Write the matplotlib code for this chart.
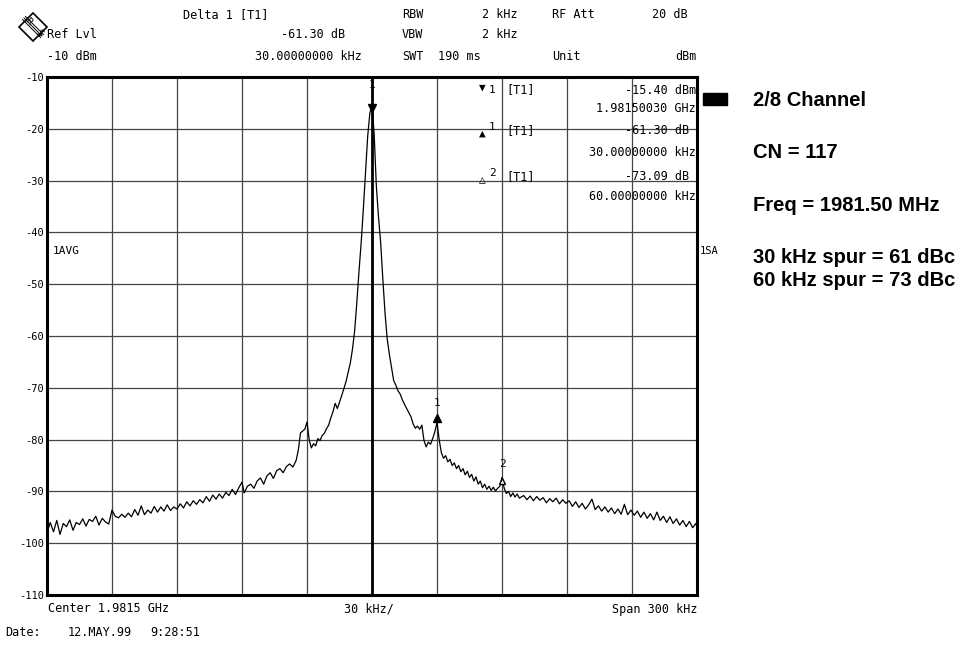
import numpy as np
import matplotlib.pyplot as plt
from matplotlib.patches import Polygon, Rectangle
from matplotlib.lines import Line2D

# ========== 数据：频偏 (kHz) 与电平 (dBm) ==========
freq_khz = [
    -150, -148.5, -147, -145.5, -144, -142.5, -141, -139.5, -138, -136.5,
    -135, -133.5, -132, -130.5, -129, -127.5, -126, -124.5, -123, -121.5,
    -120, -118.5, -117, -115.5, -114, -112.5, -111, -109.5, -108, -106.5,
    -105, -103.5, -102, -100.5, -99, -97.5, -96, -94.5, -93, -91.5,
    -90, -88.5, -87, -85.5, -84, -82.5, -81, -79.5, -78, -76.5,
    -75, -73.5, -72, -70.5, -69, -67.5, -66, -64.5, -63, -61.5,
    -60, -59, -57.5, -56, -54.5, -53, -51.5, -50, -48.5, -47,
    -45.5, -44, -42.5, -41, -39.5, -38, -36.5, -35, -34, -33,
    -31, -30, -29, -28, -27, -26, -25, -24, -23, -22,
    -21, -20, -19, -18, -17, -16, -15, -14, -13, -12,
    -11, -10, -9, -8, -7, -6, -5, -4, -3, -2,
    -1, 0, 1, 2, 3, 4, 5, 6, 7, 8,
    9, 10, 11, 12, 13, 14, 15, 16, 17, 18,
    19, 20, 21, 22, 23, 24, 25, 26, 27, 28,
    29, 30, 31, 32, 33, 34, 35, 36, 37, 38,
    39, 40, 41, 42, 43, 44, 45, 46, 47, 48,
    49, 50, 51, 52, 53, 54, 55, 56, 57, 58,
    59, 60, 61, 62, 63, 64, 65, 66, 67, 68,
    70, 71.5, 73, 74.5, 76, 77.5, 79, 80.5, 82, 83.5,
    85, 86.5, 88, 89.5, 91, 92.5, 94, 95.5, 97, 98.5,
    100, 101.5, 103, 104.5, 106, 107.5, 109, 110.5, 112, 113.5,
    115, 116.5, 118, 119.5, 121, 122.5, 124, 125.5, 127, 128.5,
    130, 131.5, 133, 134.5, 136, 137.5, 139, 140.5, 142, 143.5,
    145, 146.5, 148, 149.5, 150,
]
level_dbm = [
    -98.0, -96.0, -97.8, -95.6, -98.3, -96.2, -96.8, -95.5, -97.5, -96.0,
    -96.4, -95.3, -96.7, -95.4, -95.8, -94.8, -96.5, -95.2, -95.9, -96.3,
    -93.6, -94.8, -95.1, -94.4, -95.0, -94.2, -94.9, -93.5, -94.6, -92.8,
    -94.5, -93.6, -94.2, -92.9, -94.0, -93.0, -93.8, -92.6, -93.7, -93.0,
    -93.4, -92.4, -93.2, -92.0, -92.8, -91.8, -92.5, -91.6, -92.2, -91.0,
    -91.9, -90.7, -91.5, -90.5, -91.3, -90.2, -90.8, -89.6, -90.6, -89.3,
    -88.2, -90.3, -89.0, -88.6, -89.4, -88.0, -87.4, -88.6, -87.0, -86.4,
    -87.5, -86.0, -85.6, -86.4, -85.2, -84.7, -85.3, -84.0, -82.0, -78.7,
    -78.0, -76.6, -80.0, -81.6, -80.8, -81.2, -79.8, -80.2, -79.2, -78.8,
    -77.9, -77.2, -75.8, -74.6, -73.0, -74.0, -72.8, -71.5, -70.2, -68.8,
    -67.0, -65.2, -62.5, -59.0, -53.5, -47.5, -42.0, -35.5, -28.5, -21.5,
    -17.0, -15.4, -21.0, -31.0, -37.0, -42.0, -49.0, -55.5, -60.5, -63.5,
    -66.0, -68.6, -69.5, -70.6, -71.2, -72.3, -73.2, -74.0, -74.8, -75.6,
    -77.0, -77.8, -77.4, -78.0, -77.2, -80.2, -81.4, -80.5, -80.9, -79.8,
    -78.5, -76.7, -80.0, -82.5, -83.6, -83.1, -84.3, -83.8, -85.0, -84.5,
    -85.6, -85.0, -86.2, -85.6, -86.8, -86.1, -87.3, -86.7, -88.0, -87.2,
    -88.6, -88.0, -89.3, -88.6, -89.6, -89.0, -89.8, -89.2, -89.9, -89.4,
    -89.0, -87.3, -89.4, -90.4, -90.0, -91.0, -90.3, -91.1, -90.5, -91.3,
    -90.8, -91.6, -90.9, -91.8, -91.0, -91.7, -91.2, -92.2, -91.4, -92.0,
    -91.3, -92.4, -91.6, -92.3, -91.8, -92.9, -92.0, -93.1, -92.3, -93.4,
    -92.6, -91.5, -93.5, -92.8, -93.8, -93.0, -94.0, -93.2, -94.3, -93.4,
    -94.4, -92.5, -94.5, -93.6, -94.6, -93.8, -95.0, -94.0, -95.2, -94.3,
    -95.5, -94.0, -95.6, -94.8, -96.0, -94.9, -96.2, -95.3, -96.5, -95.6,
    -96.8, -95.8, -97.0, -96.2, -96.8,
]

# 标记点
marker_freq = [0, 30, 60]
marker_level = [-15.4, -76.7, -88.5]
marker_label = ['1', '1', '2']

y_ticks = [-10, -20, -30, -40, -50, -60, -70, -80, -90, -100, -110]
x_grid = [-150, -120, -90, -60, -30, 0, 30, 60, 90, 120, 150]

right_notes = ['2/8 Channel', 'CN = 117', 'Freq = 1981.50 MHz',
               '30 kHz spur = 61 dBc', '60 kHz spur = 73 dBc']

W, H = 971, 652
MONO = 'DejaVu Sans Mono'


def px(x, y):
    return x / W, 1 - y / H


fig = plt.figure(figsize=(W / 100, H / 100), dpi=100)
ax = fig.add_axes([47 / W, 1 - 595 / H, 650 / W, 518 / H])

# 网格
for v in y_ticks:
    ax.axhline(v, color='#444444', lw=0.9, zorder=1)
for v in x_grid:
    ax.axvline(v, color='#444444', lw=0.9, zorder=1)
ax.axvline(0, color='black', lw=2.0, zorder=1)

# 曲线
ax.plot(freq_khz, level_dbm, color='black', lw=0.9, zorder=3)

ax.set_xlim(-150, 150)
ax.set_ylim(-110, -10)
ax.set_xticks([])
ax.set_yticks(y_ticks)
ax.set_yticklabels([str(v) for v in y_ticks], fontfamily=MONO, fontsize=7.5)
ax.tick_params(axis='y', length=0, pad=2)
for sp in ax.spines.values():
    sp.set_linewidth(2.2)

# 标记
ax.plot(marker_freq[0], marker_level[0] - 0.5, marker='v', color='black', ms=6, zorder=4)
ax.plot(marker_freq[1], marker_level[1] + 0.8, marker='^', color='black', ms=6, zorder=4)
ax.plot(marker_freq[2], marker_level[2] + 0.5, marker='^', mfc='white', mec='black', ms=4, zorder=4)
for f, l, t in zip(marker_freq, marker_level, marker_label):
    ax.text(f, l + 2.8, t, ha='center', va='bottom', fontfamily=MONO, fontsize=8, zorder=4)

ax.text(-147.5, -43.5, '1AVG', fontfamily=MONO, fontsize=8, va='center')

# 标记表
tb = [
    (90, '▼', '1', '-15.40 dBm'),
    (108, None, None, '1.98150030 GHz'),
    (131, '▲', '1', '-61.30 dB '),
    (153, None, None, '30.00000000 kHz'),
    (177, '△', '2', '-73.09 dB '),
    (196, None, None, '60.00000000 kHz'),
]
for y, sym, num, val in tb:
    fig.text(*px(696, y), val, ha='right', va='center', fontfamily=MONO, fontsize=8.5)
    if sym:
        sy = y - 2 if sym == '▼' else y + 3
        fig.text(*px(482, sy), sym, ha='center', va='center', fontfamily=MONO, fontsize=8)
        dy = 0 if sym == '▼' else -4
        fig.text(*px(489, y + dy), num, ha='left', va='center', fontfamily=MONO, fontsize=8)
        fig.text(*px(506, y), '[T1]', ha='left', va='center', fontfamily=MONO, fontsize=8.5)

# 顶部信息
hdr = dict(fontfamily=MONO, fontsize=8.5, va='center')
fig.text(*px(47, 35), 'Ref Lvl', ha='left', **hdr)
fig.text(*px(47, 57), '-10 dBm', ha='left', **hdr)
fig.text(*px(183, 15), 'Delta 1 [T1]', ha='left', **hdr)
fig.text(*px(345, 35), '-61.30 dB', ha='right', **hdr)
fig.text(*px(362, 57), '30.00000000 kHz', ha='right', **hdr)
fig.text(*px(402, 15), 'RBW', ha='left', **hdr)
fig.text(*px(402, 35), 'VBW', ha='left', **hdr)
fig.text(*px(402, 57), 'SWT', ha='left', **hdr)
fig.text(*px(518, 15), '2 kHz', ha='right', **hdr)
fig.text(*px(518, 35), '2 kHz', ha='right', **hdr)
fig.text(*px(438, 57), '190 ms', ha='left', **hdr)
fig.text(*px(552, 15), 'RF Att', ha='left', **hdr)
fig.text(*px(552, 57), 'Unit', ha='left', **hdr)
fig.text(*px(688, 15), '20 dB', ha='right', **hdr)
fig.text(*px(697, 57), 'dBm', ha='right', **hdr)

# 底部信息
fig.text(*px(48, 609), 'Center 1.9815 GHz', ha='left', **hdr)
fig.text(*px(369, 609), '30 kHz/', ha='center', **hdr)
fig.text(*px(697, 609), 'Span 300 kHz', ha='right', **hdr)
fig.text(*px(5, 633), 'Date:', ha='left', **hdr)
fig.text(*px(68, 633), '12.MAY.99', ha='left', **hdr)
fig.text(*px(150, 633), '9:28:51', ha='left', **hdr)
fig.text(*px(700, 251), '1SA', ha='left', fontfamily=MONO, fontsize=7.5, va='center')

# R&S 标志
cx, cy, r = 33, 27, 14
diamond = [px(cx - r, cy), px(cx, cy - r), px(cx + r, cy), px(cx, cy + r)]
fig.patches.append(Polygon(diamond, closed=True, fill=False, ec='black', lw=1.2,
                           transform=fig.transFigure, figure=fig))
for d in (-1.5, 0, 1.5):
    x0, y0 = px(cx - 9 + d, cy - 9 - d)
    x1, y1 = px(cx + 9 + d, cy + 9 - d)
    fig.lines.append(Line2D([x0, x1], [y0, y1], color='black', lw=0.7,
                            transform=fig.transFigure, figure=fig))
fig.text(*px(28, 21), 'R', ha='center', va='center', fontsize=6.5, rotation=-45)
fig.text(*px(39, 33), 'S', ha='center', va='center', fontsize=6.5, rotation=-45)

# 右侧黑块与说明
x0, y0 = px(703, 105)
fig.patches.append(Rectangle((x0, y0), 24 / W, 12 / H, color='black',
                             transform=fig.transFigure, figure=fig))
note_y = [100, 153, 205, 258, 280]
for t, y in zip(right_notes, note_y):
    fig.text(*px(753, y), t, ha='left', va='center', fontfamily='Liberation Sans',
             fontweight='bold', fontsize=14.5)

plt.savefig('out.png', dpi=100)
